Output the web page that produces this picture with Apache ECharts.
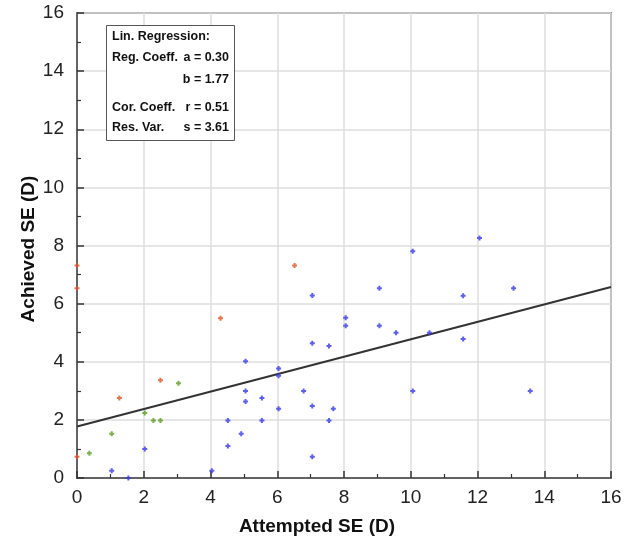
<!DOCTYPE html>
<html><head><meta charset="utf-8">
<script src="https://cdn.jsdelivr.net/npm/echarts@6/dist/echarts.min.js"></script>
<style>html,body{margin:0;padding:0;background:#fff}#c{width:634px;height:542px}</style>
</head><body><div id="c"></div>
<script>
// Data
const orangeX = [0, 0, 0, 1.27, 2.5, 4.3, 6.52];
const orangeY = [7.31, 6.53, 0.73, 2.75, 3.36, 5.5, 7.31];
const greenX = [0.37, 1.04, 2.03, 2.29, 2.5, 3.04];
const greenY = [0.85, 1.52, 2.24, 1.98, 1.98, 3.26];
const blueX = [1.04, 1.54, 2.03, 4.04, 4.52, 4.52, 4.92, 5.05, 5.05, 5.05, 5.54, 5.54,
  6.04, 6.04, 6.04, 6.79, 7.05, 7.05, 7.05, 7.05, 7.55, 7.55, 7.68, 8.05, 8.05,
  9.06, 9.06, 9.56, 10.06, 10.06, 10.56, 11.57, 11.57, 12.06, 13.08, 13.58];
const blueY = [0.25, 0.0, 1.0, 0.25, 1.98, 1.1, 1.52, 4.02, 2.99, 2.63, 2.75, 1.98,
  3.77, 3.52, 2.38, 2.99, 6.28, 4.64, 2.48, 0.73, 4.54, 1.98, 2.38, 5.51, 5.24,
  6.53, 5.24, 5.0, 7.8, 2.99, 5.0, 6.27, 4.78, 8.26, 6.53, 2.99];
const regA = 0.30, regB = 1.77;
const lineX = [0, 16];
const statsLines = [
  ['Lin. Regression:', ''],
  ['Reg. Coeff.', 'a = 0.30'],
  ['', 'b = 1.77'],
  ['Cor. Coeff.', 'r = 0.51'],
  ['Res. Var.', 's = 3.61']
];

const zip = (xs, ys) => xs.map((x, i) => [x, ys[i]]);
const plus = 'path://M1.5,0h2v1.5h1.5v2h-1.5v1.5h-2v-1.5h-1.5v-2h1.5z';
const FONT = '"Liberation Sans", Arial, sans-serif';

const chart = echarts.init(document.getElementById('c'));
const axisCommon = {
  min: 0, max: 16, interval: 2,
  axisLine: {show: true, onZero: false, lineStyle: {color: '#444', width: 1.5}},
  axisTick: {show: true, inside: true, length: 7, lineStyle: {color: '#333', width: 1.5}},
  minorTick: {show: true, splitNumber: 2, length: 4, lineStyle: {color: '#333', width: 1.2}},
  splitLine: {show: true, lineStyle: {color: '#dedede', width: 1.5}}
};
const labelStyle = {fontFamily: FONT, fontSize: 19, color: '#222'};
const lineYs = lineX.map(x => regA * x + regB);

const graphics = [];
graphics.push({type: 'text', left: 'center', top: 517, style: {text: 'Attempted SE (D)', font: 'bold 19px ' + FONT, fill: '#111'}});
graphics.push({type: 'text', x: 19, y: 249, rotation: Math.PI / 2, style: {text: 'Achieved SE (D)', font: 'bold 19px ' + FONT, fill: '#111', align: 'center', verticalAlign: 'top'}});
graphics.push({type: 'rect', shape: {x: 106.5, y: 25.5, width: 128, height: 115}, style: {fill: '#fff', stroke: '#555', lineWidth: 1}, z: 50});
const rowY = [37, 58, 80, 108, 128];
statsLines.forEach((r, i) => {
  if (r[0]) graphics.push({type: 'text', x: 112, y: rowY[i], z: 51, style: {text: r[0], font: 'bold 12.5px ' + FONT, fill: '#111', verticalAlign: 'middle', align: 'left'}});
  if (r[1]) graphics.push({type: 'text', x: 229, y: rowY[i], z: 51, style: {text: r[1], font: 'bold 12.5px ' + FONT, fill: '#111', verticalAlign: 'middle', align: 'right'}});
});

chart.setOption({
  animation: false,
  backgroundColor: '#fff',
  grid: {left: 77, right: 23, top: 13, bottom: 64, show: true, borderColor: '#444', borderWidth: 1.5, backgroundColor: 'transparent'},
  xAxis: Object.assign({type: 'value'}, axisCommon, {axisLabel: Object.assign({}, labelStyle, {margin: 10})}),
  yAxis: Object.assign({type: 'value'}, axisCommon, {axisLabel: Object.assign({}, labelStyle, {margin: 13})}),
  series: [
    {type: 'line', data: zip(lineX, lineYs), symbol: 'none', lineStyle: {color: '#333', width: 2}, z: 3},
    {type: 'scatter', data: zip(orangeX, orangeY), symbol: plus, symbolSize: 5, itemStyle: {color: '#de5224'}, z: 4},
    {type: 'scatter', data: zip(greenX, greenY), symbol: plus, symbolSize: 5, itemStyle: {color: '#5f9a22'}, z: 4},
    {type: 'scatter', data: zip(blueX, blueY), symbol: plus, symbolSize: 5, itemStyle: {color: '#3838ea'}, z: 4}
  ],
  graphic: graphics
});
</script></body></html>
